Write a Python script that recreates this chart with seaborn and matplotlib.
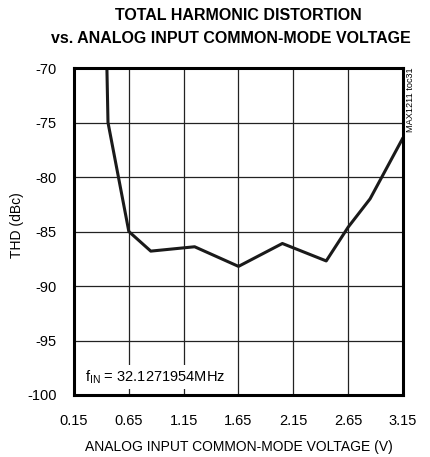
import matplotlib
matplotlib.use("Agg")
import matplotlib.pyplot as plt
import seaborn as sns
import pandas as pd

# THD vs common-mode voltage
vcm = [0.45, 0.46, 0.65, 0.85, 1.25, 1.65, 2.05, 2.45, 2.65, 2.85, 3.15]
thd = [-70.0, -75.0, -85.0, -86.8, -86.4, -88.2, -86.1, -87.7, -84.6, -82.0, -76.4]
x_ticks = [0.15, 0.65, 1.15, 1.65, 2.15, 2.65, 3.15]
y_ticks = [-100, -95, -90, -85, -80, -75, -70]

df = pd.DataFrame({"vcm": vcm, "thd": thd})

sns.set_theme(style="white")
plt.rcParams["font.family"] = ["Liberation Sans", "DejaVu Sans"]
plt.rcParams["text.color"] = "black"
plt.rcParams["axes.labelcolor"] = "black"

fig = plt.figure(figsize=(4.31, 4.57), dpi=100)
ax = fig.add_axes([74 / 431, 1 - 395 / 457, 329 / 431, 327 / 457])

sns.lineplot(data=df, x="vcm", y="thd", ax=ax, color="#1a1a1a", linewidth=2.2)

ax.set_xlim(0.15, 3.15)
ax.set_ylim(-100, -70)
ax.set_xticks(x_ticks)
ax.set_xticklabels([f"{t:.2f}" for t in x_ticks])
ax.set_yticks(y_ticks)
ax.set_yticklabels([str(t) for t in y_ticks])
ax.tick_params(axis="both", length=0, labelsize=10.5, colors="black")
ax.tick_params(axis="x", pad=13.5)
ax.tick_params(axis="y", pad=12.5)
ax.grid(True, color="#222222", linewidth=0.9)
for s in ax.spines.values():
    s.set_color("black")
    s.set_linewidth(2.2)

ax.set_xlabel("ANALOG INPUT COMMON-MODE VOLTAGE (V)", fontsize=10, va="center")
ax.set_ylabel("THD (dBc)", fontsize=10, va="center")
ax.xaxis.set_label_coords(0.5, (395 - 447) / 327)
ax.yaxis.set_label_coords((17 - 74) / 329, (395 - 225.5) / 327)

fig.text(238 / 431, 1 - 15.5 / 457, "TOTAL HARMONIC DISTORTION", ha="center",
         va="center", fontsize=11.5, fontweight="bold")
fig.text(231 / 431, 1 - 38.5 / 457, "vs. ANALOG INPUT COMMON-MODE VOLTAGE",
         ha="center", va="center", fontsize=11.5, fontweight="bold")

ax.text(0.034, 0.055, r"f$_{\mathregular{IN}}$ = 32.1271954MHz", transform=ax.transAxes,
        fontsize=10.5, ha="left", va="center",
        bbox=dict(facecolor="white", edgecolor="none", pad=2))

fig.text(411 / 431, 1 - 100 / 457, "MAX1211 toc31", rotation=90, ha="center",
         va="center", fontsize=6.6)

fig.savefig("out.png", dpi=100)
